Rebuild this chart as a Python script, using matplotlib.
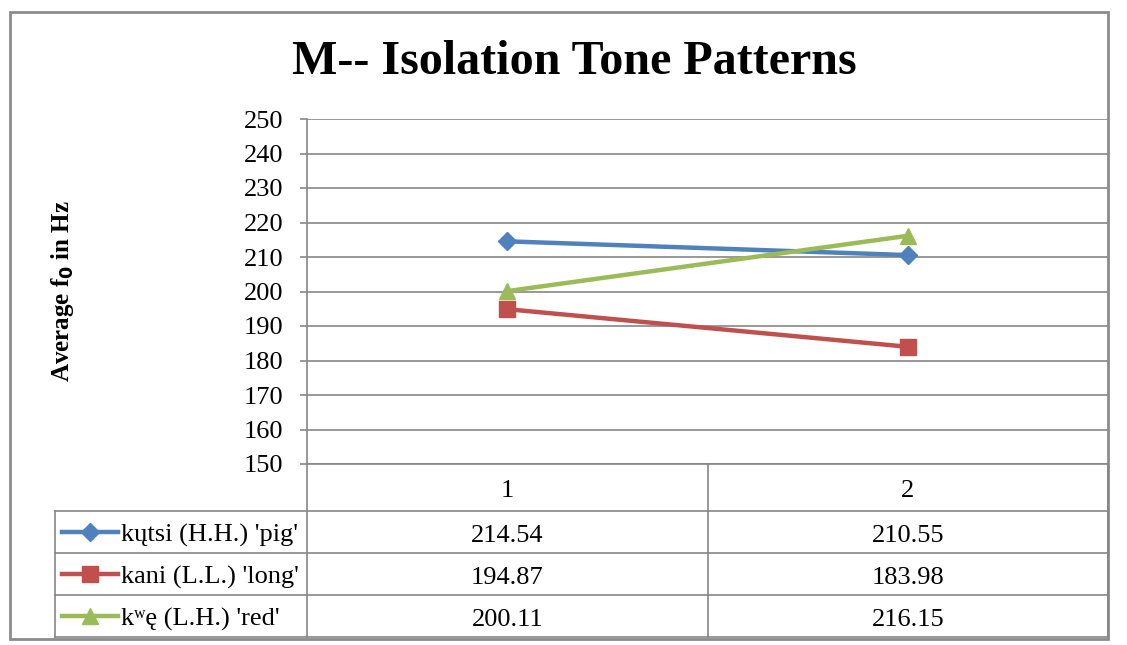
import matplotlib.pyplot as plt
from matplotlib.lines import Line2D
import numpy as np

# average f0 per syllable (Hz)
categories = ['1', '2']
series_names = ["kųtsi (H.H.) 'pig'", "kani (L.L.) 'long'", "k\u02b7ę (L.H.) 'red'"]
kutsi = [214.54, 210.55]
kani = [194.87, 183.98]
kwe = [200.11, 216.15]
series = [kutsi, kani, kwe]

colors = ['#4F81BD', '#C0504D', '#9BBB59']
markers = ['D', 's', '^']
msizes = [9, 12, 12]
grid_c = '#868686'
serif = ['Liberation Serif', 'DejaVu Serif']
fs = 19

W, H = 1127, 645
fig = plt.figure(figsize=(W / 100, H / 100), dpi=100)

def fx(px):
    return px / W

def fy(py):
    return 1 - py / H

# plot area (pixels)
L, R, T, B = 307, 1108, 119, 464
ax = fig.add_axes([fx(L), fy(B), fx(R - L), fy(T) - fy(B)])
x = np.arange(len(categories))
for vals, c, m, ms, name in zip(series, colors, markers, msizes, series_names):
    ax.plot(x, vals, color=c, lw=3.2, marker=m, markersize=ms, label=name,
            zorder=3, clip_on=False)
ax.set_xlim(-0.5, len(categories) - 0.5)
ax.set_ylim(150, 250)
ax.set_yticks(range(150, 251, 10))
ax.yaxis.grid(True, color=grid_c, lw=1.2)
ax.set_xticks([])
for s in ['top', 'right', 'bottom']:
    ax.spines[s].set_visible(False)
ax.spines['left'].set_color(grid_c)
ax.spines['left'].set_linewidth(1.2)
ax.tick_params(axis='y', length=5, color=grid_c, width=1.2, pad=12)
for lab in ax.get_yticklabels():
    lab.set_family(serif)
    lab.set_fontsize(fs)

# outer chart border
fig.add_artist(plt.Rectangle((fx(10), fy(639)), fx(1098), fy(12) - fy(639),
                             transform=fig.transFigure, fill=False,
                             edgecolor='#8c8c8c', lw=2))

fig.text(fx(574), fy(62), 'M-- Isolation Tone Patterns', ha='center', va='center',
         fontsize=34.6, fontweight='bold', family=serif)
fig.text(fx(62), fy(291), r'Average f$_\mathbf{0}$ in Hz', rotation=90, ha='center',
         va='center', fontsize=18, fontweight='bold', family=serif)

# data table below the plot
def hline(x0, x1, y):
    fig.add_artist(Line2D([fx(x0), fx(x1)], [fy(y), fy(y)], color=grid_c, lw=1.2,
                          transform=fig.transFigure))

def vline(xp, y0, y1):
    fig.add_artist(Line2D([fx(xp), fx(xp)], [fy(y0), fy(y1)], color=grid_c, lw=1.2,
                          transform=fig.transFigure))

row_y = [464, 511, 553, 595, 637]
col_x = [L, 708, R]
hline(L, R, row_y[0])
for yy in row_y[1:]:
    hline(55, R, yy)
vline(55, row_y[1], row_y[-1])
for xx in col_x:
    vline(xx, row_y[0], row_y[-1])

col_c = [(col_x[i] + col_x[i + 1]) / 2 for i in range(len(categories))]
for cx, cat in zip(col_c, categories):
    fig.text(fx(cx), fy((row_y[0] + row_y[1]) / 2 + 1), cat, ha='center',
             va='center_baseline', fontsize=fs, family=serif)

for i, (vals, c, m, ms, name) in enumerate(zip(series, colors, markers, msizes, series_names)):
    cy = (row_y[i + 1] + row_y[i + 2]) / 2
    fig.add_artist(Line2D([fx(62), fx(118)], [fy(cy), fy(cy)], color=c, lw=3.2,
                          transform=fig.transFigure))
    fig.add_artist(Line2D([fx(90)], [fy(cy)], color=c, marker=m, markersize=ms,
                          transform=fig.transFigure))
    fig.text(fx(121), fy(cy + 1), name, ha='left', va='center_baseline',
             fontsize=fs, family=serif)
    for cx, v in zip(col_c, vals):
        fig.text(fx(cx), fy(cy + 1), f'{v:.2f}', ha='center', va='center_baseline',
                 fontsize=fs, family=serif)

fig.savefig('out.png', dpi=100)
